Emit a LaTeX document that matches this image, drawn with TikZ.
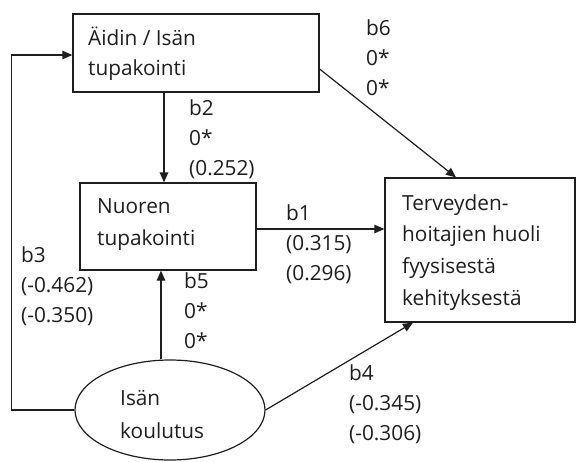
\documentclass[tikz,border=0pt]{standalone}
\usepackage{fontspec}
\setmainfont{Open Sans}
\usetikzlibrary{arrows.meta,shapes.geometric}
\definecolor{ink}{HTML}{1E1E1E}
\newcommand{\firstl}{\rule{0pt}{20pt}}
\begin{document}
\begin{tikzpicture}[x=1pt,y=-1pt,
  boxnode/.style={draw=ink, line width=1.2pt, rectangle, inner sep=0pt},
  ovalnode/.style={draw=ink, line width=1.2pt, ellipse, inner sep=0pt, minimum width=190pt, minimum height=100pt},
  txt/.style={anchor=north west, inner sep=0pt, align=left, text=ink, font=\fontsize{20.8}{#1}\selectfont},
  txt/.default=30,
  arr/.style={draw=ink, line width=1.2pt, -{Triangle[length=10pt,width=8.5pt]}}]
\useasboundingbox (0,0) rectangle (576,461);
% boxes
\node[boxnode, minimum width=246pt, minimum height=78pt] (A) at (196,53) {};
\node[boxnode, minimum width=176pt, minimum height=87pt] (N) at (168,226.5) {};
\node[boxnode, minimum width=190pt, minimum height=144pt] (T) at (480,250) {};
\node[ovalnode] (E) at (170,410) {};
% box texts
\node[txt=30] (At) at (88,25) {\firstl Äidin / Isän\\tupakointi};
\node[txt=32] (Nt) at (97,193) {\firstl Nuoren\\tupakointi};
\node[txt=31.7] (Tt) at (402,190) {\firstl Terveyden-\\hoitajien huoli\\fyysisestä\\kehityksestä};
\node[txt=33] (Et) at (120,385) {\firstl Isän\\koulutus};
% labels
\node[txt] (lb6) at (366,15) {\firstl b6\\0*\\0*};
\node[txt] (lb2) at (189,95) {\firstl b2\\0*\\(0.252)};
\node[txt] (lb3) at (21,242) {\firstl b3\\(-0.462)\\(-0.350)};
\node[txt] (lb1) at (286,200) {\firstl b1\\(0.315)\\(0.296)};
\node[txt] (lb5) at (184,268) {\firstl b5\\0*\\0*};
\node[txt] (lb4) at (349,360) {\firstl b4\\(-0.345)\\(-0.306)};
% connectors
\draw[arr] ([xshift=-32pt]A.south) -- ([xshift=-4pt]N.north);
\draw[arr] ([yshift=-16pt]A.east) -- ([xshift=-24pt]T.north);
\draw[arr] ([yshift=-2.5pt]N.east) -- ([yshift=-2.5pt]N.east -| T.west);
\draw[arr] ([xshift=-9pt]E.north) -- ([xshift=-7pt]N.south);
\draw[arr] (E.east) -- ([xshift=-67pt]T.south);
\draw[arr] (E.west) -| ([xshift=-61pt,yshift=-2pt]A.west) -- ([yshift=-2pt]A.west);
\end{tikzpicture}
\end{document}
